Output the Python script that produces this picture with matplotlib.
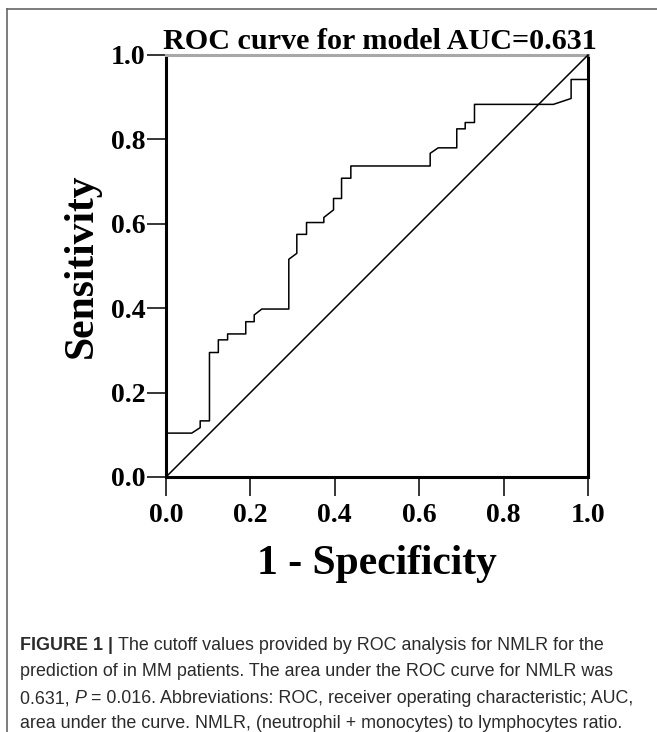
import matplotlib
matplotlib.use("Agg")
import matplotlib.pyplot as plt
from matplotlib.lines import Line2D

# ROC curve (1 - specificity, sensitivity)
fpr = [0.0, 0.0, 0.061, 0.081, 0.081, 0.103, 0.103, 0.124, 0.124, 0.146, 0.146,
       0.189, 0.189, 0.209, 0.209, 0.227, 0.291, 0.291, 0.310, 0.310, 0.333,
       0.333, 0.374, 0.374, 0.397, 0.397, 0.416, 0.416, 0.438, 0.438, 0.626,
       0.626, 0.645, 0.689, 0.689, 0.709, 0.709, 0.731, 0.731, 0.918, 0.960,
       0.960, 1.0, 1.0]
tpr = [0.0, 0.104, 0.104, 0.117, 0.133, 0.133, 0.295, 0.295, 0.325, 0.325, 0.339,
       0.339, 0.368, 0.368, 0.384, 0.398, 0.398, 0.516, 0.530, 0.575, 0.575,
       0.603, 0.603, 0.615, 0.633, 0.660, 0.660, 0.708, 0.708, 0.737, 0.737,
       0.767, 0.780, 0.780, 0.825, 0.825, 0.840, 0.840, 0.883, 0.883, 0.897,
       0.942, 0.942, 1.0]
ref_line = [0.0, 1.0]
ticks = [0.0, 0.2, 0.4, 0.6, 0.8, 1.0]
tick_labels = ["0.0", "0.2", "0.4", "0.6", "0.8", "1.0"]

title = "ROC curve for model AUC=0.631"
xlabel = "1 - Specificity"
ylabel = "Sensitivity"
caption = [
    [("FIGURE 1 | ", "bold", "normal"),
     ("The cutoff values provided by ROC analysis for NMLR for the", "normal", "normal")],
    [("prediction of in MM patients. The area under the ROC curve for NMLR was", "normal", "normal")],
    [("0.631, ", "normal", "normal"), ("P", "normal", "italic"),
     (" = 0.016. Abbreviations: ROC, receiver operating characteristic; AUC,", "normal", "normal")],
    [("area under the curve. NMLR, (neutrophil + monocytes) to lymphocytes ratio.", "normal", "normal")],
]

W, H = 657, 732
SERIF = ["Liberation Serif", "DejaVu Serif"]
SANS = ["Liberation Sans", "DejaVu Sans"]

fig = plt.figure(figsize=(W / 100, H / 100), dpi=100)
ax = fig.add_axes([166 / W, 1 - 477 / H, 422 / W, 422 / H])

ax.plot(fpr, tpr, color="black", lw=1.1, clip_on=False, zorder=3)
ax.plot(ref_line, ref_line, color="black", lw=1.1, zorder=3)

ax.set_xlim(0, 1)
ax.set_ylim(0, 1)
ax.set_xticks(ticks)
ax.set_yticks(ticks)
ax.set_xticklabels(tick_labels, fontfamily=SERIF, fontweight="bold", fontsize=20)
ax.set_yticklabels(tick_labels, fontfamily=SERIF, fontweight="bold", fontsize=20)
ax.tick_params(axis="x", direction="out", length=14, width=1.1, pad=5)
ax.tick_params(axis="y", direction="out", length=14, width=1.1, pad=1)

for side in ["left", "bottom", "right"]:
    ax.spines[side].set_linewidth(2.2)
    ax.spines[side].set_color("black")
ax.spines["top"].set_linewidth(2.2)
ax.spines["top"].set_color("#a8a8a8")

ax.set_xlabel(xlabel, fontfamily=SERIF, fontweight="bold", fontsize=30, labelpad=12)
ax.set_ylabel(ylabel, fontfamily=SERIF, fontweight="bold", fontsize=30, labelpad=7)
fig.text(380 / W, 1 - 49 / H, title, fontfamily=SERIF, fontweight="bold",
         fontsize=21.7, ha="center", va="baseline")

# outer frame (top and left edges only visible)
fig.add_artist(Line2D([7 / W, 1.0], [1 - 8.5 / H, 1 - 8.5 / H], color="#666666", lw=1.2,
                      transform=fig.transFigure))
fig.add_artist(Line2D([7 / W, 7 / W], [0.0, 1 - 8.5 / H], color="#666666", lw=1.2,
                      transform=fig.transFigure))

# caption, drawn run by run so bold / italic parts follow each other
renderer = fig.canvas.get_renderer()
baselines = [650, 676.5, 703, 728.5]
for line, yb in zip(caption, baselines):
    x = 20
    for text, weight, style in line:
        t = fig.text(x / W, 1 - yb / H, text, fontfamily=SANS, fontsize=12.9,
                     fontweight=weight, fontstyle=style, color="#2b2b2b",
                     ha="left", va="baseline")
        x += t.get_window_extent(renderer).width

fig.savefig("out.png", dpi=100)
